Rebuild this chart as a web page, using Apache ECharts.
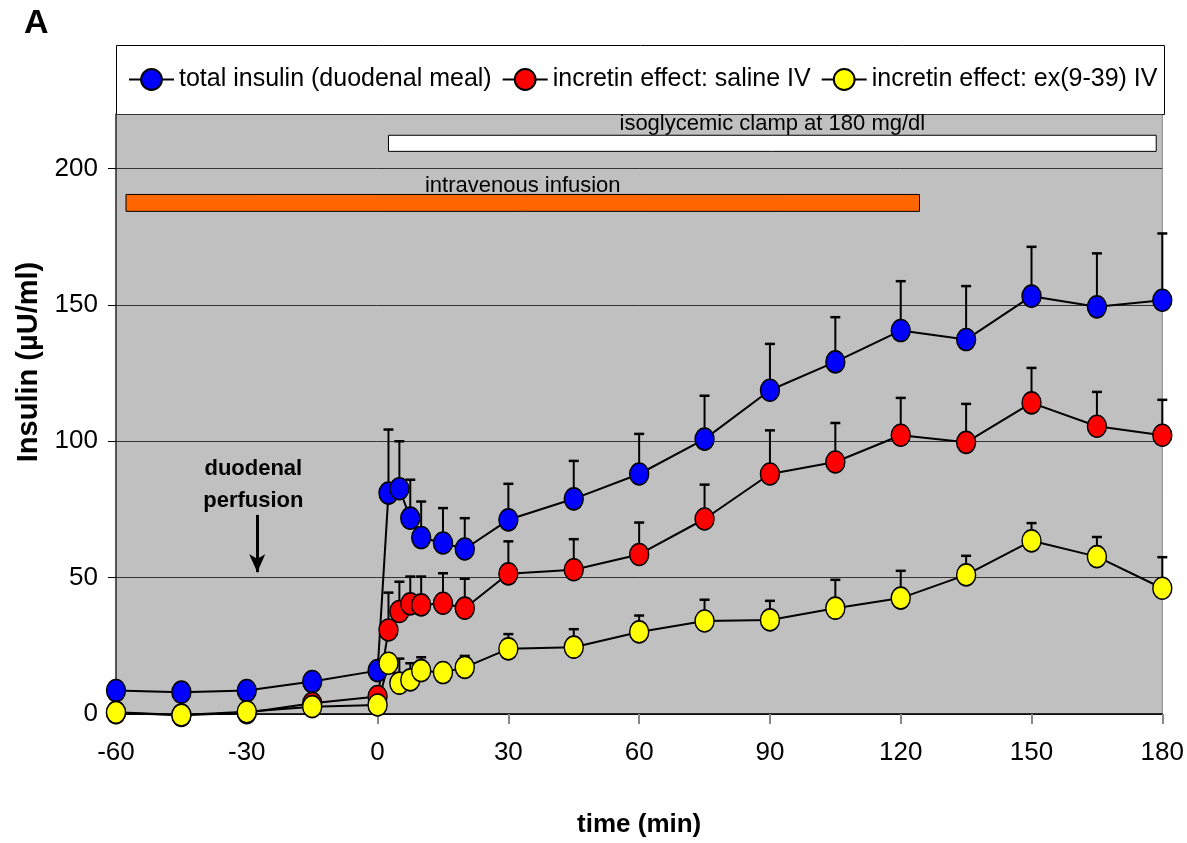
<!DOCTYPE html>
<html>
<head>
<meta charset="utf-8">
<script src="https://cdn.jsdelivr.net/npm/echarts@6/dist/echarts.min.js"></script>
<style>
  html, body { margin: 0; padding: 0; background: #fff; }
  #main { width: 1187px; height: 843px; }
</style>
</head>
<body>
<div id="main"></div>
<script>
// time points (min)
var times = [-60, -45, -30, -15, 0, 2.5, 5, 7.5, 10, 15, 20, 30, 45, 60, 75, 90, 105, 120, 135, 150, 165, 180];

// total insulin (duodenal meal)
var totalInsulin = [8.6, 8.0, 8.6, 11.9, 15.9, 81.0, 82.6, 71.8, 64.7, 62.7, 60.5, 71.2, 78.9, 88.0, 100.8, 118.7, 129.1, 140.6, 137.3, 153.2, 149.3, 151.7];
var totalInsulinUpper = [10, 9.5, 10, 13.5, 18, 104.3, 100, 85.9, 77.9, 75.5, 71.8, 84.4, 92.8, 102.7, 116.7, 135.7, 145.5, 158.7, 156.9, 171.3, 168.9, 176.2];

// incretin effect: saline IV
var salineIV = [0.5, -0.5, 0.5, 3.9, 6.4, 30.8, 37.6, 40.4, 40.0, 40.6, 38.8, 51.4, 52.9, 58.5, 71.5, 88.0, 92.4, 102.2, 99.6, 114.1, 105.5, 102.2];
var salineIVUpper = [2, 1.5, 2, 5.5, 8.5, 44.5, 48.5, 50.4, 50.4, 51.6, 49.6, 63.3, 64.1, 70.2, 84.1, 104.0, 106.7, 115.9, 113.7, 126.9, 118.1, 115.2];

// incretin effect: ex(9-39) IV
var exendinIV = [0.6, -0.4, 0.8, 2.7, 3.3, 18.6, 11.3, 12.5, 15.9, 15.2, 17.1, 23.9, 24.5, 30.1, 34.1, 34.5, 38.8, 42.5, 51.0, 63.5, 57.7, 46.1];
var exendinIVUpper = [2, 1, 2, 4, 5, 21, 20.3, 18.6, 20.8, 18.5, 21.3, 29.3, 31.1, 36.1, 41.9, 41.5, 49.2, 52.5, 58.0, 70.0, 64.9, 57.5];

var seriesNames = ['total insulin (duodenal meal)', 'incretin effect: saline IV', 'incretin effect: ex(9-39) IV'];
var seriesColors = ['#0000FF', '#FF0000', '#FFFF00'];

// bars at the top: [start, end, low, high, label]
var infusionBar = [-57.7, 124.3, 184.3, 190.5, 'intravenous infusion'];
var clampBar = [2.5, 178.6, 206.3, 212.2, 'isoglycemic clamp at 180 mg/dl'];

// arrow for duodenal perfusion: [time, from, to]
var perfusionArrow = [-27.6, 73, 52];

var FONT = '"Liberation Sans", Arial, sans-serif';

function pairs(ys) {
  var out = [];
  for (var i = 0; i < times.length; i++) {
    out.push([times[i], ys[i]]);
  }
  return out;
}

function errData(ys, ups) {
  var out = [];
  for (var i = 0; i < times.length; i++) {
    out.push([times[i], ys[i], ups[i]]);
  }
  return out;
}

function renderErr(params, api) {
  var p0 = api.coord([api.value(0), api.value(1)]);
  var p1 = api.coord([api.value(0), api.value(2)]);
  return {
    type: 'group',
    children: [
      { type: 'line', shape: { x1: p0[0], y1: p0[1], x2: p1[0], y2: p1[1] }, style: { stroke: '#000', lineWidth: 2 } },
      { type: 'line', shape: { x1: p1[0] - 5, y1: p1[1], x2: p1[0] + 5, y2: p1[1] }, style: { stroke: '#000', lineWidth: 2.5 } }
    ]
  };
}

function lineSeries(name, ys, color, extra) {
  var s = {
    name: name,
    type: 'line',
    data: pairs(ys),
    symbol: 'circle',
    symbolSize: [19, 22],
    clip: false,
    z: 3,
    lineStyle: { color: '#000', width: 2 },
    itemStyle: { color: color, borderColor: '#000', borderWidth: 1.5 },
    emphasis: { disabled: true }
  };
  if (extra) {
    for (var k in extra) s[k] = extra[k];
  }
  return s;
}

function barArea(b, fill, dist) {
  return [
    {
      xAxis: b[0], yAxis: b[2],
      itemStyle: { color: fill, borderColor: '#000', borderWidth: 1, opacity: 1 },
      label: { show: true, position: 'top', distance: dist, formatter: b[4], color: '#000', fontSize: 22, fontFamily: FONT }
    },
    { xAxis: b[1], yAxis: b[3] }
  ];
}

var chart = echarts.init(document.getElementById('main'));

var option = {
  animation: false,
  backgroundColor: '#fff',
  textStyle: { fontFamily: FONT, color: '#000' },
  grid: {
    left: 116, right: 24, top: 114, bottom: 128,
    show: true,
    backgroundColor: '#C0C0C0',
    borderColor: '#888',
    borderWidth: 1
  },
  graphic: [
    {
      type: 'rect', left: 116, top: 45, z: 0,
      shape: { width: 1048, height: 69 },
      style: { fill: '#fff', stroke: '#000', lineWidth: 1 }
    },
    {
      type: 'text', left: 24, top: 7,
      style: { text: 'A', font: 'bold 34px ' + FONT, fill: '#000' }
    }
  ],
  legend: {
    left: 123, top: 62,
    itemWidth: 45, itemHeight: 26,
    itemGap: 10,
    textStyle: { fontSize: 25, color: '#000', fontFamily: FONT },
    data: seriesNames
  },
  xAxis: {
    type: 'value',
    min: -60, max: 180, interval: 30,
    name: 'time (min)',
    nameLocation: 'middle',
    nameGap: 98,
    nameTextStyle: { fontSize: 26, fontWeight: 'bold', color: '#000' },
    axisLine: { show: true, onZero: false, lineStyle: { color: '#000', width: 1.5 } },
    axisTick: { show: true, length: 10, lineStyle: { color: '#888', width: 2 } },
    axisLabel: { fontSize: 26, color: '#000', margin: 26 },
    splitLine: { show: false }
  },
  yAxis: {
    type: 'value',
    min: 0, max: 220, interval: 50,
    name: 'Insulin (µU/ml)',
    nameLocation: 'middle',
    nameGap: 72,
    nameTextStyle: { fontSize: 29, fontWeight: 'bold', color: '#000', padding: [0, 0, 0, 104] },
    axisLine: { show: true, onZero: false, lineStyle: { color: '#333', width: 1.5 } },
    axisTick: { show: true, length: 8, lineStyle: { color: '#000' } },
    axisLabel: { fontSize: 26, color: '#000', margin: 18, showMaxLabel: false },
    splitLine: { show: true, lineStyle: { color: '#333', width: 1 } }
  },
  series: [
    { type: 'custom', renderItem: renderErr, data: errData(totalInsulin, totalInsulinUpper), z: 2, clip: false, silent: true },
    { type: 'custom', renderItem: renderErr, data: errData(salineIV, salineIVUpper), z: 2, clip: false, silent: true },
    { type: 'custom', renderItem: renderErr, data: errData(exendinIV, exendinIVUpper), z: 2, clip: false, silent: true },
    lineSeries(seriesNames[0], totalInsulin, seriesColors[0], {
      markArea: {
        silent: true,
        data: [barArea(infusionBar, '#FF6600', -3), barArea(clampBar, '#FFFFFF', 0)]
      },
      markLine: {
        silent: true,
        symbol: ['none', 'arrow'],
        symbolSize: [12, 18],
        lineStyle: { color: '#000', width: 3, type: 'solid' },
        label: { show: false },
        data: [[{ coord: [perfusionArrow[0], perfusionArrow[1]] }, { coord: [perfusionArrow[0], perfusionArrow[2]] }]]
      },
      markPoint: {
        silent: true,
        symbol: 'circle',
        symbolSize: 1,
        itemStyle: { color: 'rgba(0,0,0,0)' },
        label: {
          show: true, position: 'inside',
          formatter: 'duodenal\nperfusion',
          fontSize: 22, fontWeight: 'bold', lineHeight: 32, color: '#000', fontFamily: FONT
        },
        data: [{ coord: [-28.5, 84] }]
      }
    }),
    lineSeries(seriesNames[1], salineIV, seriesColors[1]),
    lineSeries(seriesNames[2], exendinIV, seriesColors[2])
  ]
};

chart.setOption(option);
</script>
</body>
</html>
